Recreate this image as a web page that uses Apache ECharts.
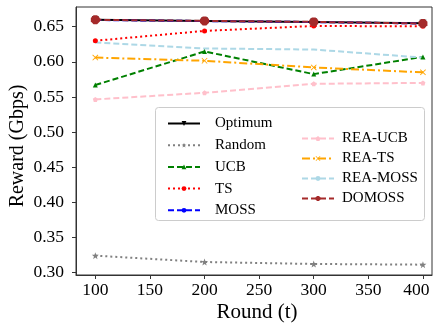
<!DOCTYPE html>
<html>
<head>
<meta charset="utf-8">
<script src="https://cdn.jsdelivr.net/npm/echarts@6/dist/echarts.min.js"></script>
<style>html,body{margin:0;padding:0;background:#fff}#c{width:433px;height:327px}</style>
</head>
<body>
<div id="c"></div>
<script>
const rounds = [100, 200, 300, 400];
const xTicks = [100, 150, 200, 250, 300, 350, 400];
const yTicks = [0.30, 0.35, 0.40, 0.45, 0.50, 0.55, 0.60, 0.65];
const optimum = [0.6598, 0.6582, 0.6568, 0.6548];
const random = [0.3242, 0.3152, 0.3124, 0.3114];
const ucb = [0.5670, 0.6147, 0.5825, 0.6070];
const ts = [0.6300, 0.6440, 0.6510, 0.6505];
const moss = [0.6595, 0.6580, 0.6566, 0.6545];
const reaUcb = [0.5465, 0.5560, 0.5687, 0.5700];
const reaTs = [0.6060, 0.6015, 0.5920, 0.5850];
const reaMoss = [0.6275, 0.6190, 0.6175, 0.6060];
const domoss = [0.6598, 0.6582, 0.6568, 0.6545];

const FONT = '"Liberation Serif", "DejaVu Serif", serif';
const STAR = 'path://M0,-10 L2.35,-3.24 9.51,-3.09 3.8,1.24 5.88,8.09 0,4 -5.88,8.09 -3.8,1.24 -9.51,-3.09 -2.35,-3.24Z';
const XMARK = 'path://M1,0 L5,4 9,0 10,1 6,5 10,9 9,10 5,6 1,10 0,9 4,5 0,1Z';
const OCT = 'path://M3,0 L7,0 10,3 10,7 7,10 3,10 0,7 0,3Z';
const PENT = 'path://M5,0 L10,3.8 8.1,10 1.9,10 0,3.8Z';

function pts(arr) { return rounds.map((r, i) => [r, arr[i]]); }
function mk(name, arr, color, type, symbol, size, extra) {
  return Object.assign({
    name, type: 'line', data: pts(arr), symbol, symbolSize: size,
    lineStyle: { color, width: 2, type },
    itemStyle: { color },
    animation: false
  }, extra || {});
}

const series = [
  mk('Optimum', optimum, '#000000', 'solid', 'triangle', 7, { symbolRotate: 180 }),
  mk('Random', random, '#808080', [2, 3], STAR, 7),
  mk('UCB', ucb, '#008000', [6, 3], 'triangle', 5),
  mk('TS', ts, '#ff0000', [2, 3], 'circle', 5),
  mk('MOSS', moss, '#0000ff', [6, 3], 'circle', 6),
  mk('REA-UCB', reaUcb, '#ffc0cb', [6, 3], PENT, 5),
  mk('REA-TS', reaTs, '#ffa500', [8, 3, 2, 3], XMARK, 6),
  mk('REA-MOSS', reaMoss, '#add8e6', [6, 3], 'none', 4),
  mk('DOMOSS', domoss, '#a52a2a', [6, 3], OCT, 9)
];

function legendCfg(left, top, gap, pad, data) {
  return {
    left, top, data, orient: 'vertical', itemWidth: 32, itemHeight: 6, itemGap: gap,
    textStyle: { fontFamily: FONT, fontSize: 15, color: '#000', padding: [0, 0, 0, pad] },
    selectedMode: false
  };
}

const lastX = xTicks[xTicks.length - 1];
const chart = echarts.init(document.getElementById('c'), null, { renderer: 'canvas' });
chart.setOption({
  animation: false,
  backgroundColor: '#fff',
  grid: { left: 76, right: 1, top: 7, bottom: 52, show: true, borderColor: '#333', borderWidth: 1,
    containLabel: false, outerBoundsMode: 'none' },
  xAxis: {
    type: 'value', min: 82.3, max: 408.3,
    name: 'Round (t)', nameLocation: 'middle', nameGap: 27, nameMoveOverlap: false,
    nameTextStyle: { fontFamily: FONT, fontSize: 21, color: '#000', padding: [0, 0, 0, 6] },
    axisLine: { show: true, lineStyle: { color: '#333' } },
    axisTick: { show: true, length: 4, lineStyle: { color: '#333' }, customValues: xTicks },
    axisLabel: { fontFamily: FONT, fontSize: 17.5, color: '#000', margin: 6, customValues: xTicks,
      formatter: v => v === lastX ? '{r|' + v + '}' : String(v),
      rich: { r: { fontFamily: FONT, fontSize: 17.5, color: '#000', padding: [0, 13, 0, 0] } } },
    splitLine: { show: false }
  },
  yAxis: {
    type: 'value', min: 0.2967, max: 0.678,
    name: 'Reward (Gbps)', nameLocation: 'middle', nameGap: 48, nameMoveOverlap: false,
    nameTextStyle: { fontFamily: FONT, fontSize: 20, color: '#000', padding: [0, 10, 0, 0] },
    axisLine: { show: true, lineStyle: { color: '#333' } },
    axisTick: { show: true, length: 4, lineStyle: { color: '#333' }, customValues: yTicks },
    axisLabel: { fontFamily: FONT, fontSize: 17.5, color: '#000', margin: 12, customValues: yTicks,
      formatter: v => v.toFixed(2) },
    splitLine: { show: false }
  },
  legend: [
    legendCfg(162, 111, 6.7, 10, ['Optimum', 'Random', 'UCB', 'TS', 'MOSS']),
    legendCfg(296, 126, 5, 3, ['REA-UCB', 'REA-TS', 'REA-MOSS', 'DOMOSS'])
  ],
  graphic: [{
    type: 'rect', left: 155, top: 107, z: 0,
    shape: { width: 269, height: 113, r: 3 },
    style: { fill: 'rgba(255,255,255,0.8)', stroke: '#cccccc', lineWidth: 1 }
  }],
  series
});
</script>
</body>
</html>
